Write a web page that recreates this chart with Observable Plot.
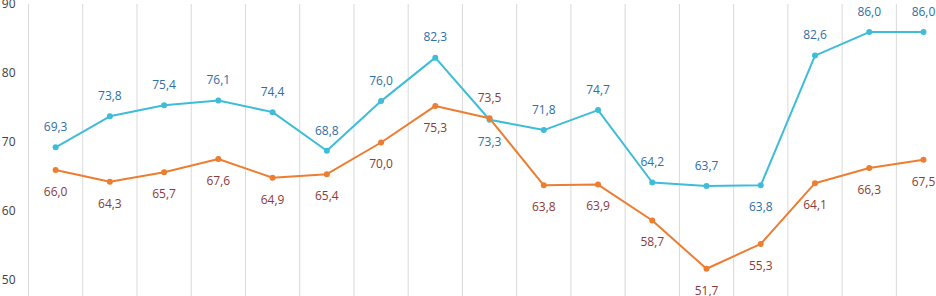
<!DOCTYPE html>
<html>
<head>
<meta charset="utf-8">
<script src="https://cdn.jsdelivr.net/npm/d3@7"></script>
<script src="https://cdn.jsdelivr.net/npm/@observablehq/plot@0.6"></script>
<style>
  html, body { margin: 0; padding: 0; background: #fff; }
  #chart svg { display: block; }
</style>
</head>
<body>
<div id="chart"></div>
<script>
const categories = d3.range(17);
const blueValues = [69.3, 73.8, 75.4, 76.1, 74.4, 68.8, 76.0, 82.3, 73.3, 71.8, 74.7, 64.2, 63.7, 63.8, 82.6, 86.0, 86.0];
const orangeValues = [66.0, 64.3, 65.7, 67.6, 64.9, 65.4, 70.0, 75.3, 73.5, 63.8, 63.9, 58.7, 51.7, 55.3, 64.1, 66.3, 67.5];
const yTicks = [50, 60, 70, 80, 90];

// label placement config (indices whose label flips side)
const blueBelow = [8, 13];
const orangeAbove = [8];

const blue = categories.map((c, i) => ({i: c, v: blueValues[i], above: !blueBelow.includes(i)}));
const orange = categories.map((c, i) => ({i: c, v: orangeValues[i], above: orangeAbove.includes(i)}));
const fmt = v => v.toFixed(1).replace(".", ",");
const grid = d3.range(16).map(k => k + 0.5);
grid.unshift(-0.5);

const blueLine = "#3fbcd8", blueText = "#2f6ea6";
const orangeLine = "#ed7d31", orangeText = "#8a3a3a";

const chart = Plot.plot({
  width: 936,
  height: 296,
  marginLeft: 28,
  marginRight: 0,
  marginTop: 0,
  marginBottom: 0,
  style: {fontFamily: "'Open Sans', sans-serif", fontSize: "12px", background: "#fff"},
  x: {domain: [-0.5, 16.24], axis: null},
  y: {domain: [47.68, 90.58], ticks: yTicks, tickFormat: d => d, tickSize: 0, tickPadding: 13, label: null},
  marks: [
    Plot.ruleX(grid, {x: d => d, y1: 90, y2: 47.68, stroke: "#d9d9d9", strokeWidth: 1}),
    Plot.axisY({ticks: yTicks, tickSize: 0, tickPadding: 13, label: null, fill: "#404040", fontSize: 12}),
    Plot.line(blue, {x: "i", y: "v", stroke: blueLine, strokeWidth: 2}),
    Plot.line(orange, {x: "i", y: "v", stroke: orangeLine, strokeWidth: 2}),
    Plot.dot(blue, {x: "i", y: "v", r: 3, fill: blueLine}),
    Plot.dot(orange, {x: "i", y: "v", r: 3, fill: orangeLine}),
    Plot.text(blue.filter(d => d.above), {x: "i", y: "v", text: d => fmt(d.v), dy: -20, fill: blueText}),
    Plot.text(blue.filter(d => !d.above), {x: "i", y: "v", text: d => fmt(d.v), dy: 22, fill: blueText}),
    Plot.text(orange.filter(d => d.above), {x: "i", y: "v", text: d => fmt(d.v), dy: -20, fill: orangeText}),
    Plot.text(orange.filter(d => !d.above), {x: "i", y: "v", text: d => fmt(d.v), dy: 22, fill: orangeText})
  ]
});
document.getElementById("chart").appendChild(chart);
</script>
</body>
</html>
